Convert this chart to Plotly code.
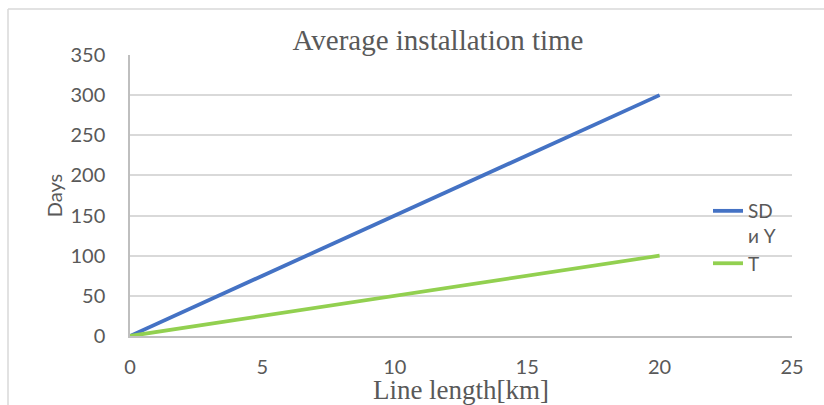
import plotly.graph_objects as go

x_km = [0, 5, 10, 15, 20]
sd_y_days = [0, 75, 150, 225, 300]
t_days = [0, 25, 50, 75, 100]
series_names = ["SD<br>и Y", "T"]
x_ticks = [0, 5, 10, 15, 20, 25]
y_ticks = [0, 50, 100, 150, 200, 250, 300, 350]

W, H = 824, 405
L, R, T, B = 130, 32, 55, 69
pw, ph = W - L - R, H - T - B

fig = go.Figure()
fig.add_trace(go.Scatter(x=x_km, y=sd_y_days, name=series_names[0], mode="lines",
                         line=dict(color="#4472C4", width=3.8)))
fig.add_trace(go.Scatter(x=x_km, y=t_days, name=series_names[1], mode="lines",
                         line=dict(color="#92D050", width=3.8)))

def px2x(p):
    return (p - L) / pw

def py2y(p):
    return (H - B - p) / ph

fig.update_layout(
    width=W, height=H,
    margin=dict(l=L, r=R, t=T, b=B),
    paper_bgcolor="white", plot_bgcolor="white",
    title=dict(text="Average installation time", font=dict(family="Liberation Serif", size=29, color="#595959"),
               x=px2x(438), xref="paper", xanchor="center", y=1 - 40 / H, yref="container", yanchor="middle"),
    xaxis=dict(range=[0, 25], tickvals=x_ticks, showgrid=False, zeroline=False, automargin=False,
               showline=True, linecolor="#bfbfbf", linewidth=1.5, ticks="",
               ticklabelstandoff=12,
               tickfont=dict(family="Lato", size=20, color="#595959"),
               title=dict(text="Line length[km]", standoff=3,
                          font=dict(family="Liberation Serif", size=27, color="#595959"))),
    yaxis=dict(range=[0, 350], tickvals=y_ticks, showgrid=True, gridcolor="#d9d9d9", gridwidth=1.5,
               zeroline=False, showline=True, linecolor="#bfbfbf", linewidth=1.5,
               ticks="outside", ticklen=19, tickcolor="rgba(0,0,0,0)", automargin=False,
               tickfont=dict(family="Lato", size=20, color="#595959"),
               title=dict(text="Days", standoff=2,
                          font=dict(family="Lato", size=20, color="#595959"))),
    legend=dict(x=px2x(708), xanchor="left", y=py2y(192), yanchor="top",
                bgcolor="rgba(0,0,0,0)", valign="top", tracegroupgap=0,
                font=dict(family="Lato", size=19, color="#595959")),
    shapes=[
        dict(type="line", xref="paper", yref="paper", x0=px2x(8), x1=px2x(W + 5), y0=py2y(9), y1=py2y(9),
             line=dict(color="#d9d9d9", width=1.5)),
        dict(type="line", xref="paper", yref="paper", x0=px2x(8), x1=px2x(8), y0=py2y(9), y1=py2y(H + 5),
             line=dict(color="#d9d9d9", width=1.5)),
    ],
)

fig.write_html("out.html")
